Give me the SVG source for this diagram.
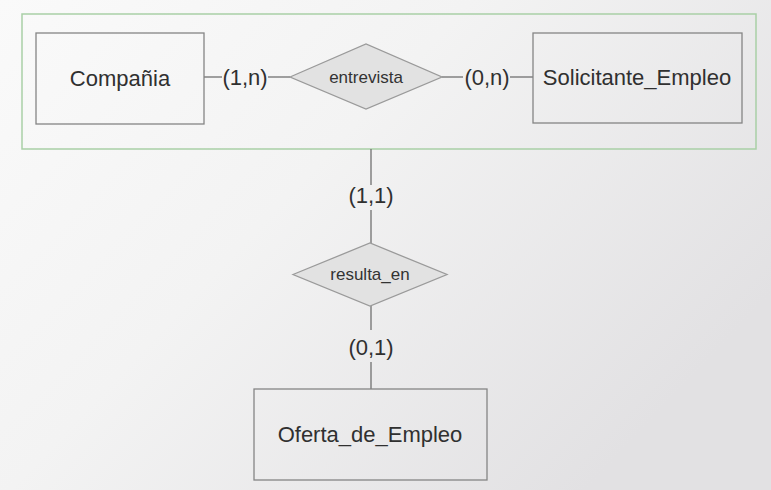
<svg xmlns="http://www.w3.org/2000/svg" width="771" height="490" viewBox="0 0 771 490">
  <defs>
    <linearGradient id="bg" x1="0" y1="0" x2="1" y2="0.6">
      <stop offset="0" stop-color="#fafafa"/>
      <stop offset="0.45" stop-color="#f3f3f3"/>
      <stop offset="1" stop-color="#e2e1e3"/>
    </linearGradient>
    <style>
      .ent { fill: none; stroke: #858585; stroke-width: 1.3; }
      .rel { fill: #e2e2e2; stroke: #9a9a9a; stroke-width: 1.3; }
      .frame { fill: none; stroke: #a9cfa6; stroke-width: 1.5; }
      .conn { stroke: #707070; stroke-width: 1.3; fill: none; }
      .big { font-family: "Liberation Sans", Arial, sans-serif; font-size: 22px; fill: #303030; text-anchor: middle; }
      .small { font-family: "Liberation Sans", Arial, sans-serif; font-size: 17px; fill: #333333; text-anchor: middle; }
    </style>
  </defs>
  <rect x="0" y="0" width="771" height="490" fill="url(#bg)"/>

  <g id="aggregation">
    <rect class="frame" x="22" y="14" width="734" height="135"/>
  </g>

  <g id="connectors">
    <line class="conn" x1="204" y1="77" x2="222" y2="77"/>
    <line class="conn" x1="268" y1="77" x2="290" y2="77"/>
    <line class="conn" x1="442" y1="77" x2="463" y2="77"/>
    <line class="conn" x1="510" y1="77" x2="533" y2="77"/>
    <line class="conn" x1="371" y1="149" x2="371" y2="185"/>
    <line class="conn" x1="371" y1="210" x2="371" y2="243"/>
    <line class="conn" x1="371" y1="306" x2="371" y2="330"/>
    <line class="conn" x1="371" y1="362" x2="371" y2="389"/>
    <text class="big" x="245" y="85">(1,n)</text>
    <text class="big" x="487" y="85">(0,n)</text>
    <text class="big" x="371" y="203">(1,1)</text>
    <text class="big" x="371" y="355">(0,1)</text>
  </g>

  <g id="compania">
    <rect class="ent" x="36" y="33" width="168" height="91"/>
    <text class="big" x="120" y="86">Compañia</text>
  </g>

  <g id="entrevista">
    <polygon class="rel" points="290,77 366,44 442,77 366,109"/>
    <text class="small" x="366" y="83">entrevista</text>
  </g>

  <g id="solicitante_empleo">
    <rect class="ent" x="533" y="33" width="209" height="90"/>
    <text class="big" x="637" y="85">Solicitante_Empleo</text>
  </g>

  <g id="resulta_en">
    <polygon class="rel" points="293,274.5 370,243 447,274.5 370,306"/>
    <text class="small" x="370" y="280">resulta_en</text>
  </g>

  <g id="oferta_de_empleo">
    <rect class="ent" x="254" y="389" width="233" height="91"/>
    <text class="big" x="370" y="442">Oferta_de_Empleo</text>
  </g>
</svg>
